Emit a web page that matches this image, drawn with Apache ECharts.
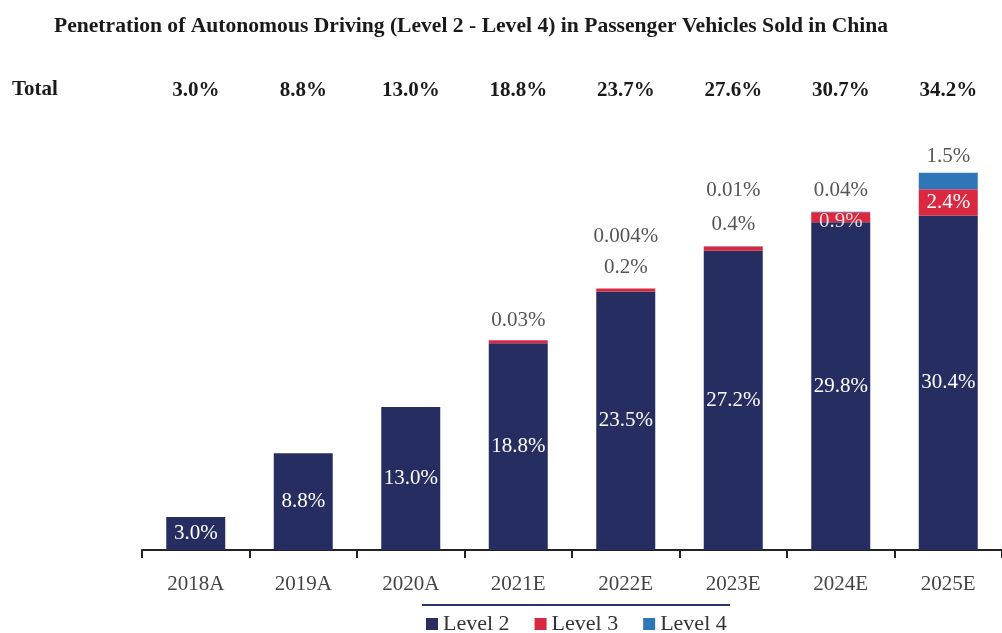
<!DOCTYPE html>
<html>
<head>
<meta charset="utf-8">
<title>Penetration of Autonomous Driving</title>
<script src="https://cdn.jsdelivr.net/npm/echarts@6/dist/echarts.min.js"></script>
<style>
  html, body { margin: 0; padding: 0; background: #fff; }
  #chart { width: 1002px; height: 633px; }
</style>
</head>
<body>
<div id="chart"></div>
<script>
// values (%)
const years = ["2018A", "2019A", "2020A", "2021E", "2022E", "2023E", "2024E", "2025E"];
const level2 = [3.0, 8.8, 13.0, 18.8, 23.5, 27.2, 29.8, 30.4];
const level3 = ["-", "-", "-", 0.03, 0.2, 0.4, 0.9, 2.4];
const level4 = ["-", "-", "-", "-", 0.004, 0.01, 0.04, 1.5];
const totals = [3.0, 8.8, 13.0, 18.8, 23.7, 27.6, 30.7, 34.2];

const FONT = "'Liberation Serif', 'DejaVu Serif', serif";
const NAVY = "#262e61";
const RED = "#da2840";
const BLUE = "#2f76b8";

const chart = echarts.init(document.getElementById("chart"));

const outLabel = { color: "#555", fontFamily: FONT, fontSize: 21 };
const inLabel = { color: "#fff", fontFamily: FONT, fontSize: 21 };

// label placement for the small segments
const l3Labels = [null, null, null,
  { position: "top", distance: 9, ...outLabel },
  { position: "top", distance: 11, ...outLabel },
  { position: "top", distance: 11, ...outLabel },
  { position: "top", distance: -20, color: "#ddd", fontFamily: FONT, fontSize: 21 },
  { position: "inside", ...inLabel }
];
const l4Labels = [null, null, null, null,
  { position: "top", distance: 42, ...outLabel },
  { position: "top", distance: 45, ...outLabel },
  { position: "top", distance: 11, ...outLabel },
  { position: "top", distance: 6, ...outLabel }
];

const option = {
  animation: false,
  title: {
    text: "Penetration of Autonomous Driving (Level 2 - Level 4) in Passenger Vehicles Sold in China",
    left: 49,
    top: 10,
    textStyle: { fontFamily: FONT, fontSize: 21.6, fontWeight: "bold", color: "#1a1a1a" }
  },
  graphic: [
    {
      type: "text",
      left: 12,
      top: 79,
      style: { text: "Total", font: "bold 21px " + FONT, fill: "#1a1a1a" }
    },
    {
      type: "line",
      shape: { x1: 422, y1: 605, x2: 730, y2: 605 },
      style: { stroke: "#2b3466", lineWidth: 2 }
    }
  ],
  legend: {
    data: ["Level 2", "Level 3", "Level 4"],
    left: 421,
    top: 608,
    icon: "rect",
    itemWidth: 12,
    itemHeight: 12,
    itemGap: 25,
    textStyle: { fontFamily: FONT, fontSize: 22, color: "#333" }
  },
  grid: { left: 142, top: 110, width: 869, height: 440 },
  xAxis: [
    {
      type: "category",
      data: years,
      axisLine: { lineStyle: { color: "#222", width: 2 } },
      axisTick: { show: true, length: 8, lineStyle: { color: "#222", width: 2 } },
      axisLabel: { margin: 24, fontFamily: FONT, fontSize: 21, color: "#444" }
    },
    {
      type: "category",
      position: "top",
      data: totals.map((v) => v.toFixed(1) + "%"),
      axisLine: { show: false },
      axisTick: { show: false },
      axisLabel: {
        margin: 9,
        fontFamily: FONT,
        fontSize: 21,
        fontWeight: "bold",
        color: "#1a1a1a"
      }
    }
  ],
  yAxis: { type: "value", min: 0, max: 40, show: false, splitLine: { show: false } },
  series: [
    {
      name: "Level 2",
      type: "bar",
      stack: "total",
      barWidth: 59,
      itemStyle: { color: NAVY },
      label: {
        show: true,
        position: "inside",
        formatter: (p) => p.value.toFixed(1) + "%",
        ...inLabel
      },
      data: level2
    },
    {
      name: "Level 3",
      type: "bar",
      stack: "total",
      barWidth: 59,
      barMinHeight: 3,
      itemStyle: { color: RED },
      data: level3.map((v, i) =>
        v === "-" ? v : { value: v, label: { show: true, formatter: v + "%", ...l3Labels[i] } }
      )
    },
    {
      name: "Level 4",
      type: "bar",
      stack: "total",
      barWidth: 59,
      itemStyle: { color: BLUE },
      data: level4.map((v, i) =>
        v === "-" ? v : { value: v, label: { show: true, formatter: v + "%", ...l4Labels[i] } }
      )
    }
  ]
};

chart.setOption(option);
</script>
</body>
</html>
